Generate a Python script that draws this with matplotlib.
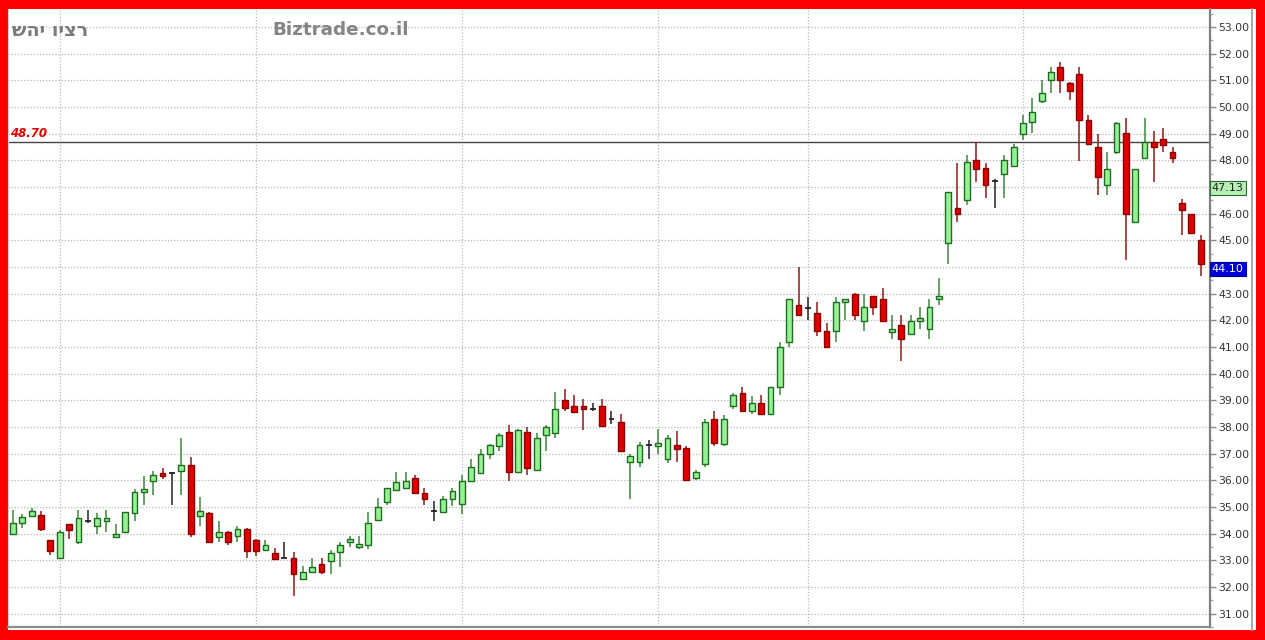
import matplotlib
matplotlib.use("Agg")
import matplotlib.pyplot as plt
from matplotlib.patches import Rectangle
from matplotlib.lines import Line2D
import numpy as np

# ---------------- data ----------------
opens = [34.00, 34.40, 34.65, 34.69, 33.76, 33.07, 34.36, 33.68, 34.47, 34.29,
         34.46, 33.86, 34.08, 34.76, 35.57, 35.97, 36.29, 36.28, 36.35, 36.57,
         34.65, 34.79, 33.86, 34.08, 33.92, 34.19, 33.77, 33.37, 33.27, 33.07,
         33.10, 32.31, 32.55, 32.86, 32.98, 33.32, 33.70, 33.50, 33.58, 34.51,
         35.19, 35.63, 35.70, 36.10, 35.51, 34.84, 34.81, 35.31, 35.11, 35.99,
         36.26, 37.00, 37.28, 37.80, 36.30, 37.80, 36.37, 37.70, 37.78, 39.00,
         38.79, 38.79, 38.69, 38.79, 38.30, 38.20, 36.69, 36.69, 37.31, 37.28,
         36.78, 37.31, 37.20, 36.07, 36.60, 38.30, 37.35, 38.77, 39.28, 38.60,
         38.89, 38.50, 39.49, 41.17, 42.58, 42.47, 42.28, 41.58, 41.58, 42.68,
         43.00, 41.98, 42.90, 42.79, 41.57, 41.81, 41.48, 41.98, 41.66, 42.79,
         44.90, 46.20, 46.51, 47.99, 47.71, 47.22, 47.49, 47.77, 48.98, 49.43,
         50.22, 51.00, 51.50, 50.91, 51.23, 49.51, 48.48, 47.09, 48.30, 49.01,
         45.69, 48.08, 48.68, 48.80, 48.29, 46.38, 45.99, 45.00]
highs = [34.87, 34.75, 34.96, 34.85, 33.78, 34.13, 34.38, 34.87, 34.87, 34.77,
         34.87, 34.38, 34.81, 35.66, 36.18, 36.36, 36.46, 36.30, 37.59, 36.89,
         35.38, 34.80, 34.49, 34.09, 34.28, 34.20, 33.80, 33.77, 33.48, 33.67,
         33.30, 32.78, 33.07, 33.07, 33.38, 33.70, 33.91, 33.91, 34.80, 35.33,
         35.70, 36.30, 36.30, 36.20, 35.70, 35.21, 35.40, 35.70, 36.20, 36.81,
         37.19, 37.37, 37.78, 38.07, 37.92, 37.99, 37.78, 38.07, 39.31, 39.41,
         39.19, 39.06, 38.88, 39.06, 38.60, 38.48, 37.00, 37.43, 37.50, 37.93,
         37.68, 37.86, 37.30, 36.40, 38.30, 38.60, 38.46, 39.28, 39.49, 39.16,
         39.19, 39.50, 41.20, 42.80, 44.00, 42.86, 42.68, 41.88, 42.89, 42.79,
         43.01, 43.00, 42.92, 43.21, 42.19, 42.19, 42.19, 42.48, 42.81, 43.59,
         46.82, 47.89, 48.18, 48.70, 47.89, 47.28, 48.21, 48.60, 49.70, 50.32,
         51.00, 51.50, 51.69, 50.92, 51.50, 49.70, 48.98, 48.31, 49.45, 49.60,
         47.69, 49.60, 49.10, 49.20, 48.49, 46.56, 46.00, 45.18]
lows = [33.98, 34.20, 34.63, 34.09, 33.20, 33.05, 33.80, 33.60, 34.40, 33.97,
        34.07, 33.85, 34.08, 34.46, 35.06, 35.46, 36.05, 35.06, 35.46, 33.86,
        34.29, 33.70, 33.67, 33.57, 33.70, 33.07, 33.17, 33.36, 33.05, 33.07,
        31.66, 32.30, 32.54, 32.48, 32.48, 32.76, 33.50, 33.42, 33.42, 34.50,
        35.09, 35.62, 35.69, 35.51, 35.09, 34.49, 34.80, 35.02, 34.72, 35.98,
        36.25, 36.81, 37.09, 35.99, 36.28, 36.20, 36.36, 37.09, 37.60, 38.60,
        38.56, 37.90, 38.60, 38.00, 38.11, 37.09, 35.31, 36.50, 36.81, 37.00,
        36.63, 36.69, 36.00, 36.00, 36.50, 37.30, 37.30, 38.67, 38.57, 38.48,
        38.49, 38.49, 39.19, 41.00, 42.18, 42.00, 41.41, 40.98, 41.20, 42.00,
        42.00, 41.61, 42.19, 41.97, 41.29, 40.49, 41.47, 41.69, 41.29, 42.56,
        44.11, 45.70, 46.32, 47.19, 46.60, 46.20, 46.60, 47.76, 48.77, 49.01,
        50.13, 50.51, 50.51, 50.26, 47.98, 48.60, 46.69, 46.69, 48.22, 44.25,
        45.68, 48.07, 47.19, 48.31, 47.90, 45.18, 45.26, 43.67]
closes = [34.40, 34.62, 34.86, 34.19, 33.36, 34.07, 34.15, 34.58, 34.47, 34.59,
          34.59, 33.98, 34.81, 35.58, 35.69, 36.19, 36.18, 36.28, 36.56, 34.00,
          34.86, 33.70, 34.08, 33.69, 34.19, 33.36, 33.36, 33.58, 33.05, 33.07,
          32.48, 32.58, 32.76, 32.58, 33.26, 33.57, 33.81, 33.63, 34.41, 35.00,
          35.70, 35.93, 35.99, 35.51, 35.30, 34.84, 35.31, 35.60, 35.99, 36.48,
          36.98, 37.31, 37.68, 36.30, 37.90, 36.47, 37.60, 38.00, 38.69, 38.70,
          38.57, 38.67, 38.69, 38.05, 38.30, 37.09, 36.91, 37.31, 37.31, 37.40,
          37.60, 37.19, 36.00, 36.30, 38.20, 37.40, 38.30, 39.19, 38.58, 38.89,
          38.50, 39.49, 40.98, 42.78, 42.19, 42.47, 41.59, 40.99, 42.67, 42.78,
          42.19, 42.48, 42.50, 41.98, 41.69, 41.29, 41.97, 42.09, 42.48, 42.91,
          46.81, 46.00, 47.92, 47.69, 47.09, 47.22, 47.99, 48.48, 49.41, 49.80,
          50.51, 51.29, 51.00, 50.61, 49.51, 48.62, 47.37, 47.68, 49.41, 45.99,
          47.68, 48.68, 48.48, 48.58, 48.08, 46.15, 45.26, 44.10]

month_starts = [5, 26, 48, 69, 85, 108]   # candle indices of vertical grid lines
y_ticks = [31, 32, 33, 34, 35, 36, 37, 38, 39, 40, 41, 42, 43, 44, 45, 46, 47,
           48, 49, 50, 51, 52, 53]
ref_line = 48.70
ma_value = 47.13
last_value = 44.10
title_he = "רציו יהש"
watermark = "Biztrade.co.il"

# ---------------- figure ----------------
W, H = 1265, 640
fig = plt.figure(figsize=(W / 100, H / 100), dpi=100, facecolor="#ff0000")

def fx(px):
    return px / W

def fy(py_from_top):
    return 1 - py_from_top / H

# white inner panel (behind everything)
fig.patches.append(Rectangle((fx(8), fy(630)), fx(1256 - 8), (630 - 9) / H,
                             transform=fig.transFigure, facecolor="white",
                             edgecolor="none", zorder=-10))
# outer gray line at right of the value scale
fig.lines.append(Line2D([fx(1252), fx(1252)], [fy(630), fy(9)],
                        transform=fig.transFigure, color="#9a9a9a", lw=1.2,
                        zorder=-5))

ax = fig.add_axes([fx(8), fy(627), fx(1210 - 8), (627 - 9) / H])
ax.set_zorder(1)
ax.patch.set_alpha(0)

n = len(opens)
x = np.arange(n)
bw = 0.62

green_fill, green_edge, green_wick = "#94f294", "#1f6b1f", "#3a883a"
red_fill, red_edge, red_wick = "#e00000", "#8b0000", "#8b1a1a"
doji_col = "#222222"

for i in range(n):
    o, h, l, c = opens[i], highs[i], lows[i], closes[i]
    if c > o:
        fc, ec, wc = green_fill, green_edge, green_wick
    elif c < o:
        fc, ec, wc = red_fill, red_edge, red_wick
    else:
        fc, ec, wc = None, doji_col, doji_col
    ax.vlines(x[i], l, h, color=wc, lw=1.1, zorder=3)
    if fc is None:
        ax.hlines(o, x[i] - bw / 2, x[i] + bw / 2, color=doji_col, lw=1.3, zorder=4)
    else:
        lo, hi = min(o, c), max(o, c)
        ax.add_patch(Rectangle((x[i] - bw / 2, lo), bw, hi - lo,
                               facecolor=fc, edgecolor=ec, lw=1.0, zorder=4))

ax.axhline(ref_line, color="#444444", lw=1.0, zorder=2)

ax.set_xlim(-0.53, 128.0)
ax.set_ylim(30.70, 53.67)

# tick labels hidden behind the value boxes in the reference
covered = {47, 44}
ax.set_yticks(y_ticks)
ax.set_yticks(np.arange(30.5, 54, 1.0), minor=True)
ax.set_yticklabels(["" if v in covered else f"{v:.2f}" for v in y_ticks])
ax.yaxis.tick_right()
ax.tick_params(axis="y", which="major", direction="out", length=4, width=1,
               color="#888888", labelsize=7.8, labelcolor="#333333", pad=2)
ax.tick_params(axis="y", which="minor", direction="out", length=2.5, width=1,
               color="#aaaaaa")
ax.set_xticks(month_starts)
ax.set_xticklabels([])
ax.tick_params(axis="x", length=0)

ax.grid(True, which="major", axis="both", color="#b8b8b8", ls=(0, (1, 1.5)),
        lw=0.9, zorder=1)

ax.spines["top"].set_visible(False)
ax.spines["left"].set_color("#cccccc")
ax.spines["left"].set_linewidth(0.8)
ax.spines["right"].set_color("#808080")
ax.spines["right"].set_linewidth(1.6)
ax.spines["bottom"].set_color("#8c8c8c")
ax.spines["bottom"].set_linewidth(1.6)

# texts (matplotlib has no bidi layout, so the Hebrew is laid out in visual order)
fig.text(fx(12), fy(30), title_he[::-1], ha="left", va="center", fontsize=13.8,
         fontweight="bold", color="#7a7a7a", family="DejaVu Sans")
fig.text(fx(272), fy(30), watermark, ha="left", va="center", fontsize=13.2,
         fontweight="bold", color="#858585", family="DejaVu Sans")
ax.text(0.002, ref_line + 0.05, f"{ref_line:.2f}", transform=ax.get_yaxis_transform(),
        ha="left", va="bottom", fontsize=8.5, fontstyle="italic", fontweight="bold",
        color="#e00000", zorder=6)

# right value labels
ax.text(1.0015, ma_value + 0.02, f"{ma_value:.2f}", transform=ax.get_yaxis_transform(),
        ha="left", va="top", fontsize=8, color="#222222", clip_on=False,
        bbox=dict(boxstyle="square,pad=0.18", facecolor="#b4f0b4",
                  edgecolor="#2a6a2a", lw=0.8), zorder=7)
ax.text(1.0015, last_value + 0.02, f"{last_value:.2f}", transform=ax.get_yaxis_transform(),
        ha="left", va="top", fontsize=8, color="white", clip_on=False,
        bbox=dict(boxstyle="square,pad=0.18", facecolor="#0000d8",
                  edgecolor="#0000a0", lw=0.8), zorder=7)

fig.savefig("out.png", dpi=100, facecolor=fig.get_facecolor())
